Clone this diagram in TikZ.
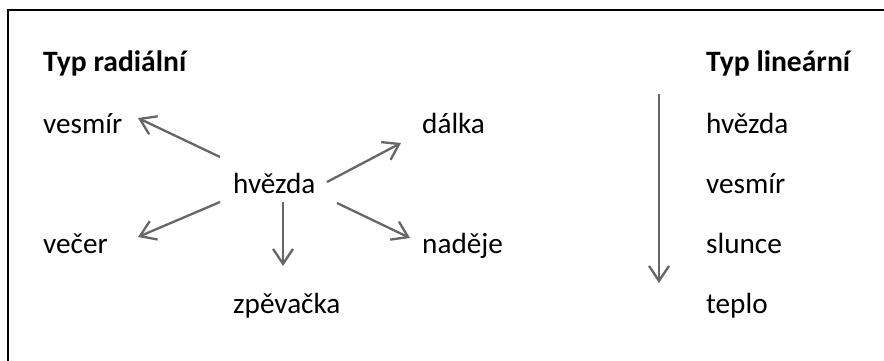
\documentclass[tikz,border=0pt]{standalone}
\usepackage{fontspec}
\setmainfont{Carlito}
\usetikzlibrary{arrows.meta}
\begin{document}
\begin{tikzpicture}[x=1pt,y=-1pt,
  word/.style={anchor=base west,inner sep=0pt,font=\fontsize{29.2}{35}\selectfont},
  head/.style={word,font=\fontsize{29.6}{35}\selectfont\bfseries},
  link/.style={draw=black!60,line width=2.3pt,
    -{Straight Barb[length=15pt,width=20pt,line width=2.3pt]}}]
\useasboundingbox (0,0) rectangle (884,361);
% frame
\draw[line width=1.5pt] (8,361) -- (8,10) -- (884,10);

% radial type
\node[head] (trad) at (43,72) {Typ radiální};
\node[word] (hv)  at (233,193) {hvězda};
\node[word] (ves) at (43,133) {vesmír};
\node[word] (dal) at (422,133) {dálka};
\node[word] (vec) at (43,253) {večer};
\node[word] (nad) at (422,253) {naděje};
\node[word] (zpe) at (233,313) {zpěvačka};

\coordinate (s1) at (220,157); \coordinate (e1) at (138,118);
\coordinate (s2) at (327,182); \coordinate (e2) at (401,143);
\coordinate (s3) at (220,202); \coordinate (e3) at (138,237);
\coordinate (s4) at (283,202); \coordinate (e4) at (283,266);
\coordinate (s5) at (337,203); \coordinate (e5) at (410,238);
\draw[link] (s1) -- (e1);
\draw[link] (s2) -- (e2);
\draw[link] (s3) -- (e3);
\draw[link] (s4) -- (e4);
\draw[link] (s5) -- (e5);

% linear type
\node[head] (tlin) at (706,72) {Typ lineární};
\node[word] (l1) at (706,133) {hvězda};
\node[word] (l2) at (706,193) {vesmír};
\node[word] (l3) at (706,253) {slunce};
\node[word] (l4) at (706,313) {teplo};
\coordinate (ls) at (659,94); \coordinate (le) at (659,283);
\draw[link] (ls) -- (le);
\end{tikzpicture}
\end{document}
